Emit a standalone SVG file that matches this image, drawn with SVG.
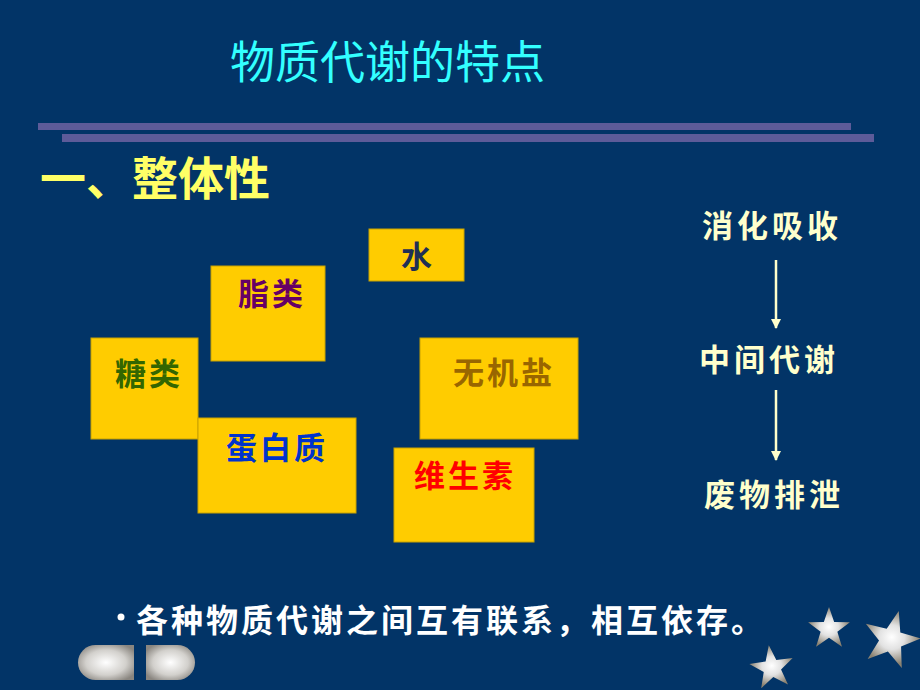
<svg xmlns="http://www.w3.org/2000/svg" width="920" height="690" viewBox="0 0 920 690">
<defs>
<style>
.cjk{font-family:"Noto Sans CJK SC","Noto Sans CJK JP",sans-serif;}
.box{fill:#ffcc00;stroke:#c9a200;stroke-width:1;}
.bt{font-size:31px;font-weight:bold;letter-spacing:3px;}
.rt{font-size:31px;font-weight:bold;fill:#ffffcc;letter-spacing:4px;}
.bar{fill:#5d5b99;}
.conn{stroke:#ffffcc;stroke-width:2.5;fill:none;}
</style>
<marker id="ah" viewBox="0 0 10 10" refX="9" refY="5" markerWidth="4" markerHeight="4" orient="auto" markerUnits="strokeWidth">
<path d="M0,0 L10,5 L0,10 Z" fill="#ffffcc"/>
</marker>
<radialGradient id="sg" cx="0.5" cy="0.5" r="0.5">
<stop offset="0" stop-color="#ffffff"/>
<stop offset="0.45" stop-color="#e2e2e2"/>
<stop offset="1" stop-color="#8a8170"/>
</radialGradient>
<radialGradient id="bg" cx="0.5" cy="0.5" r="0.6">
<stop offset="0" stop-color="#ffffff"/>
<stop offset="0.6" stop-color="#d2d0cc"/>
<stop offset="1" stop-color="#8a8680"/>
</radialGradient>
<polygon id="star" points="0,-20 4.70,-6.47 19.02,-6.18 7.61,2.47 11.76,16.18 0,8 -11.76,16.18 -7.61,2.47 -19.02,-6.18 -4.70,-6.47" fill="url(#sg)"/>
</defs>
<rect x="0" y="0" width="920" height="690" fill="#023467"/>

<text class="cjk" x="230" y="79" font-size="45" fill="#33ffff">物质代谢的特点</text>
<rect class="bar" x="38" y="123" width="813" height="7"/>
<rect class="bar" x="62" y="134" width="812" height="8"/>

<text class="cjk" x="40" y="195" font-size="46" font-weight="bold" fill="#ffff66">一、整体性</text>

<g id="n-water"><rect class="box" x="369" y="229" width="95" height="52"/><text class="cjk bt" x="401" y="268" fill="#1f2f55">水</text></g>
<g id="n-lipid"><rect class="box" x="211" y="266" width="114" height="95"/><text class="cjk bt" x="238" y="305" fill="#660066">脂类</text></g>
<g id="n-sugar"><rect class="box" x="91" y="338" width="107" height="101"/><text class="cjk bt" x="115" y="385" fill="#336600">糖类</text></g>
<g id="n-protein"><rect class="box" x="198" y="418" width="158" height="95"/><text class="cjk bt" x="226" y="459" fill="#0033cc">蛋白质</text></g>
<g id="n-salt"><rect class="box" x="420" y="338" width="158" height="101"/><text class="cjk bt" x="453" y="384" fill="#996600" font-weight="normal">无机盐</text></g>
<g id="n-vitamin"><rect class="box" x="394" y="448" width="140" height="94"/><text class="cjk bt" x="414" y="487" fill="#ff0000">维生素</text></g>

<g id="n-digest"><text class="cjk rt" x="702" y="237">消化吸收</text></g>
<g id="n-inter"><text class="cjk rt" x="699" y="371">中间代谢</text></g>
<g id="n-excr"><text class="cjk rt" x="704" y="506">废物排泄</text></g>
<g id="connectors">
<line class="conn" x1="776" y1="260" x2="776" y2="328" marker-end="url(#ah)"/>
<line class="conn" x1="776" y1="390" x2="776" y2="460" marker-end="url(#ah)"/>
</g>

<circle cx="121" cy="617" r="3.5" fill="#ffffff"/>
<text class="cjk" x="136" y="632" font-size="32" font-weight="bold" fill="#ffffff" letter-spacing="3">各种物质代谢之间互有联系，相互依存。</text>

<path d="M95.5,645 H134 V680 H95.5 A17.5,17.5 0 0,1 95.5,645 Z" fill="url(#bg)"/>
<path d="M146,645 H177.5 A17.5,17.5 0 0,1 177.5,680 H146 Z" fill="url(#bg)"/>

<use href="#star" transform="translate(829,629) scale(1.1)"/>
<use href="#star" transform="translate(891,640) rotate(15) scale(1.5)"/>
<use href="#star" transform="translate(772,668) rotate(-8) scale(1.15)"/>
</svg>
